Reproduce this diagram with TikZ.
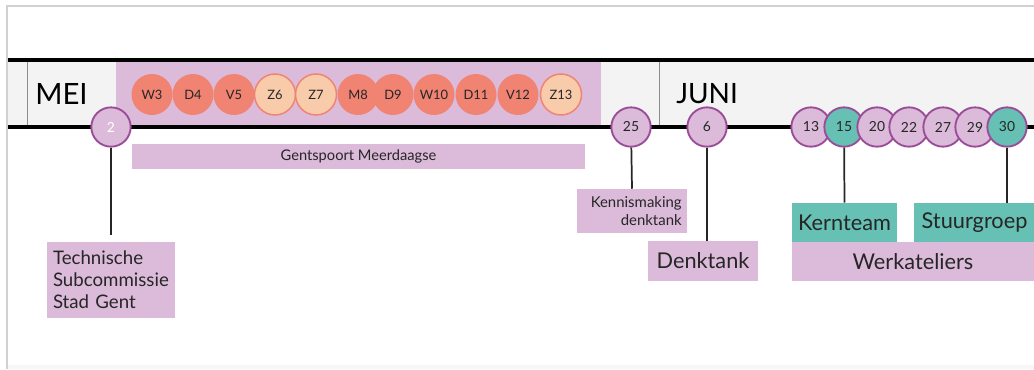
\documentclass[tikz,border=0pt]{standalone}
\usepackage{fontspec}
\setmainfont{Lato}

\definecolor{ink}{HTML}{262626}
\definecolor{zalm}{HTML}{F08372}
\definecolor{perzik}{HTML}{F8CCAA}
\definecolor{lila}{HTML}{DBBBD9}
\definecolor{paars}{HTML}{9B4C98}
\definecolor{kern}{HTML}{66C0B4}
\definecolor{band}{HTML}{F3F3F3}

\begin{document}
\begin{tikzpicture}[x=0.75pt,y=-0.75pt,
    werkdag/.style={circle, fill=zalm, minimum size=30.75pt, inner sep=0pt,
        text=ink, font=\fontsize{9.7}{11}\selectfont},
    weekend/.style={werkdag, fill=perzik, draw=zalm, line width=1.1pt},
    datum/.style={circle, fill=lila, draw=paars, line width=1.4pt,
        minimum size=29.5pt, inner sep=0pt, text=ink,
        font=\fontsize{10.4}{12}\selectfont},
    kerndatum/.style={datum, fill=kern},
    vak/.style={fill=lila, inner sep=0pt, text=ink},
    kernvak/.style={vak, fill=kern},
    stam/.style={draw=ink, line width=1.3pt},
    maand/.style={anchor=base west, inner sep=0pt, text=black}]

        \useasboundingbox (0,0) rectangle (1034,369);

        % Frame of the screenshot
        \fill[black!3] (7,365) rectangle (1034,369);
        \draw[black!18, line width=1.5pt] (7,369) -- (7,6) -- (1034,6);

        % Month band
        \fill[band] (8,60) rectangle (1034,127);
        \fill[lila] (116,61) rectangle (601,126);
        \draw[black!45, line width=0.6pt] (27,61) -- (27,126);
        \draw[black!45, line width=0.6pt] (659,61) -- (659,126);
        \draw[black, line width=3pt] (8,60) -- (1034,60);
        \draw[black, line width=3pt] (8,127) -- (1034,127);

        \node[maand, font=\fontsize{22}{24}\selectfont] (mei) at (35,104) {MEI};
        \node[maand, font=\fontsize{21}{24}\selectfont] (juni) at (676,103.5) {JUNI};

        % Days of the Gentspoort week
        \foreach \dag/\x/\soort in {W3/152/werkdag, D4/193/werkdag, V5/234/werkdag,
                Z6/275/weekend, Z7/316/weekend, M8/358/werkdag, D9/393/werkdag,
                W10/434/werkdag, D11/476/werkdag, V12/518/werkdag, Z13/561/weekend}
            \node[\soort] (d\dag) at (\x,94.5) {\dag};

        % Dates on the timeline
        \node[datum, text=white] (c2) at (111,127) {2};
        \foreach \dag/\x/\soort in {25/631/datum, 6/707/datum, 13/811/datum,
                15/844/kerndatum, 20/877/datum, 22/909/datum, 27/943/datum,
                29/975/datum, 30/1007/kerndatum}
            \node[\soort] (c\dag) at (\x,127) {\dag};

        % Labels under the timeline
        \node[vak, minimum width=339.75pt, minimum height=18.75pt,
            font=\fontsize{11}{12}\selectfont] (gent) at (358.5,156.5) {Gentspoort Meerdaagse};
        \node[vak, minimum width=96pt, minimum height=57pt, text width=87pt, align=left,
            font=\fontsize{14}{16.5}\selectfont] (tech) at (111,280)
            {Technische\\Subcommissie\\Stad Gent};
        \node[vak, minimum width=82.5pt, minimum height=33pt, text width=74.5pt, align=right,
            font=\fontsize{11.2}{13.5}\selectfont] (kenn) at (632,211) {Kennismaking\\denktank};
        \node[vak, minimum width=82.5pt, minimum height=30pt,
            font=\fontsize{16.3}{18}\selectfont] (denk) at (703,261) {Denktank};
        \node[kernvak, minimum width=78.75pt, minimum height=29.25pt,
            font=\fontsize{16.3}{18}\selectfont] (kernteam) at (844.5,222.5) {Kernteam};
        \node[kernvak, minimum width=90.75pt, minimum height=29.25pt,
            font=\fontsize{16.3}{18}\selectfont] (stuur) at (974.5,222.5) {Stuurgroep};
        \node[vak, minimum width=181.5pt, minimum height=29.25pt,
            font=\fontsize{16.3}{18}\selectfont] (werk) at (913,261.5) {Werkateliers};

        % Stems from the dates to their labels
        \draw[stam, shorten >=5pt] (c2) -- (tech.north);
        \draw[stam] (c25) -- (kenn.north);
        \draw[stam] (c6) -- (c6 |- denk.north);
        \draw[stam] (c15) -- (kernteam.north);
        \draw[stam] (c30) -- (c30 |- stuur.north);

\end{tikzpicture}
\end{document}
